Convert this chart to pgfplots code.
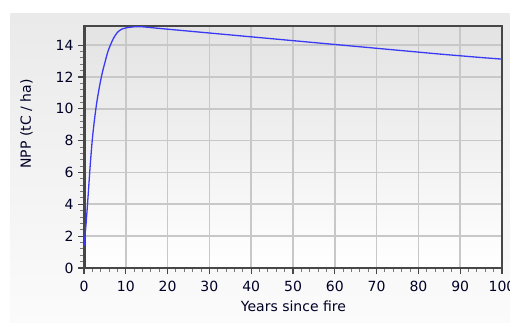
\documentclass[border=0pt]{standalone}
\usepackage{pgfplots}
\pgfplotsset{compat=1.18}
\usepackage{fontspec}
\setmainfont{DejaVu Sans}

\definecolor{panelTop}{HTML}{EAEAEA}
\definecolor{panelBot}{HTML}{FBFBFB}
\definecolor{plotTop}{HTML}{E3E3E3}
\definecolor{gridcol}{HTML}{C8C8C8}
\definecolor{framecol}{HTML}{474747}
\definecolor{nppblue}{HTML}{3A3AF5}

\begin{document}
\begin{tikzpicture}[x=1pt,y=1pt, font=\fontsize{14}{16}\selectfont]
\useasboundingbox (0,0) rectangle (510,322);
\shade[top color=panelTop, bottom color=panelBot] (10,0) rectangle (510,308);

\begin{axis}[
    at={(84pt,54pt)}, anchor=south west,
    scale only axis,
    width=418pt, height=242pt,
    xmin=0, xmax=100,
    ymin=0, ymax=15.2,
    xtick={0,10,...,100},
    ytick={0,2,...,14},
    minor x tick num=4,
    minor y tick num=4,
    tick align=outside,
    tick pos=left,
    major tick length=6pt,
    minor tick length=4pt,
    every tick/.style={framecol, line width=1.2pt},
    minor tick style={gridcol!60!black, line width=1pt},
    grid=major,
    major grid style={gridcol, line width=1.7pt},
    axis line style={framecol, line width=1.5pt},
    axis background/.style={shade, top color=plotTop, bottom color=white},
    tick label style={font=\fontsize{14}{16}\selectfont, text=black!85!blue},
    label style={font=\fontsize{14}{16}\selectfont, text=black!85!blue},
    xticklabel style={yshift=-4pt},
    yticklabel style={xshift=-1pt},
    /pgf/number format/assume math mode=true,
    xlabel={Years since fire},
    ylabel={NPP (tC / ha)},
    xlabel style={at={(axis description cs:0.501,-0.16)}, anchor=center},
    ylabel style={at={(axis description cs:-0.1376,0.595)}, anchor=center},
]
\draw[framecol, line width=3pt] (rel axis cs:0,1) -- (rel axis cs:0,0) -- (rel axis cs:1,0);

\addplot[nppblue, line width=1.3pt, smooth] coordinates {
    (0,1.4) (0.5,2.8) (1,4.6) (1.5,6.5) (2,8.1) (2.5,9.3) (3,10.3)
    (3.5,11.1) (4,11.8) (4.5,12.4) (5,12.9) (5.5,13.4) (6,13.8)
    (7,14.4) (8,14.8) (9,15.0) (10,15.08)
    (12,15.15) (14,15.15) (16,15.1) (20,15.0) (25,14.88) (30,14.76)
    (35,14.64) (40,14.52) (45,14.4) (50,14.28) (55,14.16) (60,14.04)
    (65,13.92) (70,13.8) (75,13.68) (80,13.56) (85,13.44) (90,13.33)
    (95,13.22) (100,13.12)
};
\end{axis}
\end{tikzpicture}
\end{document}
